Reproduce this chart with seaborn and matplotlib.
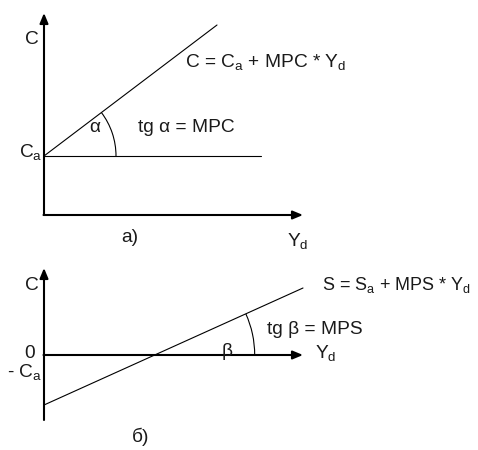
import numpy as np
import matplotlib
matplotlib.use("Agg")
import matplotlib.pyplot as plt
from matplotlib.patches import Arc
import seaborn as sns

# --- данные диаграммы (условные единицы) ---
# а) функция потребления
c_line_yd = [0, 17.3]
c_line_c = [5.9, 19.0]
ca_line_yd = [0, 21.7]
ca_line_c = [5.9, 5.9]
c_axis_top = 20.2
yd_axis_end_a = 25.9

# б) функция сбережений
s_line_yd = [0, 25.9]
s_line_s = [-5.0, 6.7]
s_axis_top = 8.7
s_axis_bottom = -6.5
yd_axis_end_b = 25.9

sns.set_style("white")
plt.rcParams['font.family'] = ['Liberation Sans', 'DejaVu Sans']
plt.rcParams['mathtext.fontset'] = 'custom'
plt.rcParams['mathtext.rm'] = 'Liberation Sans'
plt.rcParams['mathtext.it'] = 'Liberation Sans'
plt.rcParams['mathtext.bf'] = 'Liberation Sans'

fig = plt.figure(figsize=(4.78, 4.5), dpi=100)
ax_a = fig.add_axes([0, 0.5, 1, 0.5])
ax_b = fig.add_axes([0, 0, 1, 0.5])
ax_a.set_xlim(-4.4, 43.4)
ax_a.set_ylim(-1.0, 21.5)
ax_b.set_xlim(-4.4, 43.4)
ax_b.set_ylim(-9.5, 13.0)

axis_lw = 1.5
line_lw = 0.8
txt_color = '#1a1a1a'
fs = 13.8
arrow = dict(arrowstyle='-|>,head_length=0.6,head_width=0.25', mutation_scale=10,
             color='black', lw=axis_lw, shrinkA=0, shrinkB=0)

# --- панель а) ---
ax = ax_a
ax.annotate('', xy=(0, c_axis_top), xytext=(0, 0), arrowprops=arrow)
ax.annotate('', xy=(yd_axis_end_a, 0), xytext=(-0.05, 0), arrowprops=arrow)
sns.lineplot(x=c_line_yd, y=c_line_c, ax=ax, color='black', lw=line_lw)
sns.lineplot(x=ca_line_yd, y=ca_line_c, ax=ax, color='black', lw=line_lw)
alpha_deg = np.degrees(np.arctan2(c_line_c[1] - c_line_c[0], c_line_yd[1] - c_line_yd[0]))
ax.add_patch(Arc((c_line_yd[0], c_line_c[0]), 14.4, 14.4, theta1=0, theta2=alpha_deg,
                 color='black', lw=line_lw))
ax.text(-1.2, 17.5, 'C', fontsize=fs, color=txt_color, ha='center', va='center')
ax.text(-0.1, 6.3, 'C$_a$', fontsize=fs, color=txt_color, ha='right', va='center')
ax.text(5.1, 8.7, 'α', fontsize=fs, color=txt_color, ha='center', va='center')
ax.text(9.4, 8.7, 'tg α = MPC', fontsize=fs, color=txt_color, ha='left', va='center')
ax.text(14.1, 15.3, 'C = C$_a$ + MPC * Y$_d$', fontsize=fs, color=txt_color,
        ha='left', va='center')
ax.text(8.6, -2.3, 'а)', fontsize=fs, color=txt_color, ha='center', va='center', clip_on=False)
ax.text(25.4, -2.6, 'Y$_d$', fontsize=fs, color=txt_color, ha='center', va='center', clip_on=False)
ax.axis('off')

# --- панель б) ---
ax = ax_b
ax.plot([0, 0], [s_axis_bottom, 0], color='black', lw=axis_lw)
ax.annotate('', xy=(0, s_axis_top), xytext=(0, 0), arrowprops=arrow)
ax.annotate('', xy=(yd_axis_end_b, 0), xytext=(-0.05, 0), arrowprops=arrow)
sns.lineplot(x=s_line_yd, y=s_line_s, ax=ax, color='black', lw=line_lw)
slope = (s_line_s[1] - s_line_s[0]) / (s_line_yd[1] - s_line_yd[0])
x0 = s_line_yd[0] - s_line_s[0] / slope
beta_deg = np.degrees(np.arctan(slope))
ax.add_patch(Arc((x0, 0), 20.0, 20.0, theta1=0, theta2=beta_deg, color='black', lw=line_lw))
ax.text(-1.2, 6.9, 'C', fontsize=fs, color=txt_color, ha='center', va='center')
ax.text(-1.4, 0.2, '0', fontsize=fs, color=txt_color, ha='center', va='center')
ax.text(-0.2, -1.7, '- C$_a$', fontsize=fs, color=txt_color, ha='right', va='center')
ax.text(18.3, 0.3, 'β', fontsize=fs, color=txt_color, ha='center', va='center')
ax.text(22.3, 2.5, 'tg β = MPS', fontsize=fs, color=txt_color, ha='left', va='center')
ax.text(27.8, 7.0, 'S = S$_a$ + MPS * Y$_d$', fontsize=13.0, color=txt_color,
        ha='left', va='center')
ax.text(27.1, 0.2, 'Y$_d$', fontsize=fs, color=txt_color, ha='left', va='center')
ax.text(9.7, -8.2, 'б)', fontsize=fs, color=txt_color, ha='center', va='center')
ax.axis('off')

fig.savefig('out.png', dpi=100)
